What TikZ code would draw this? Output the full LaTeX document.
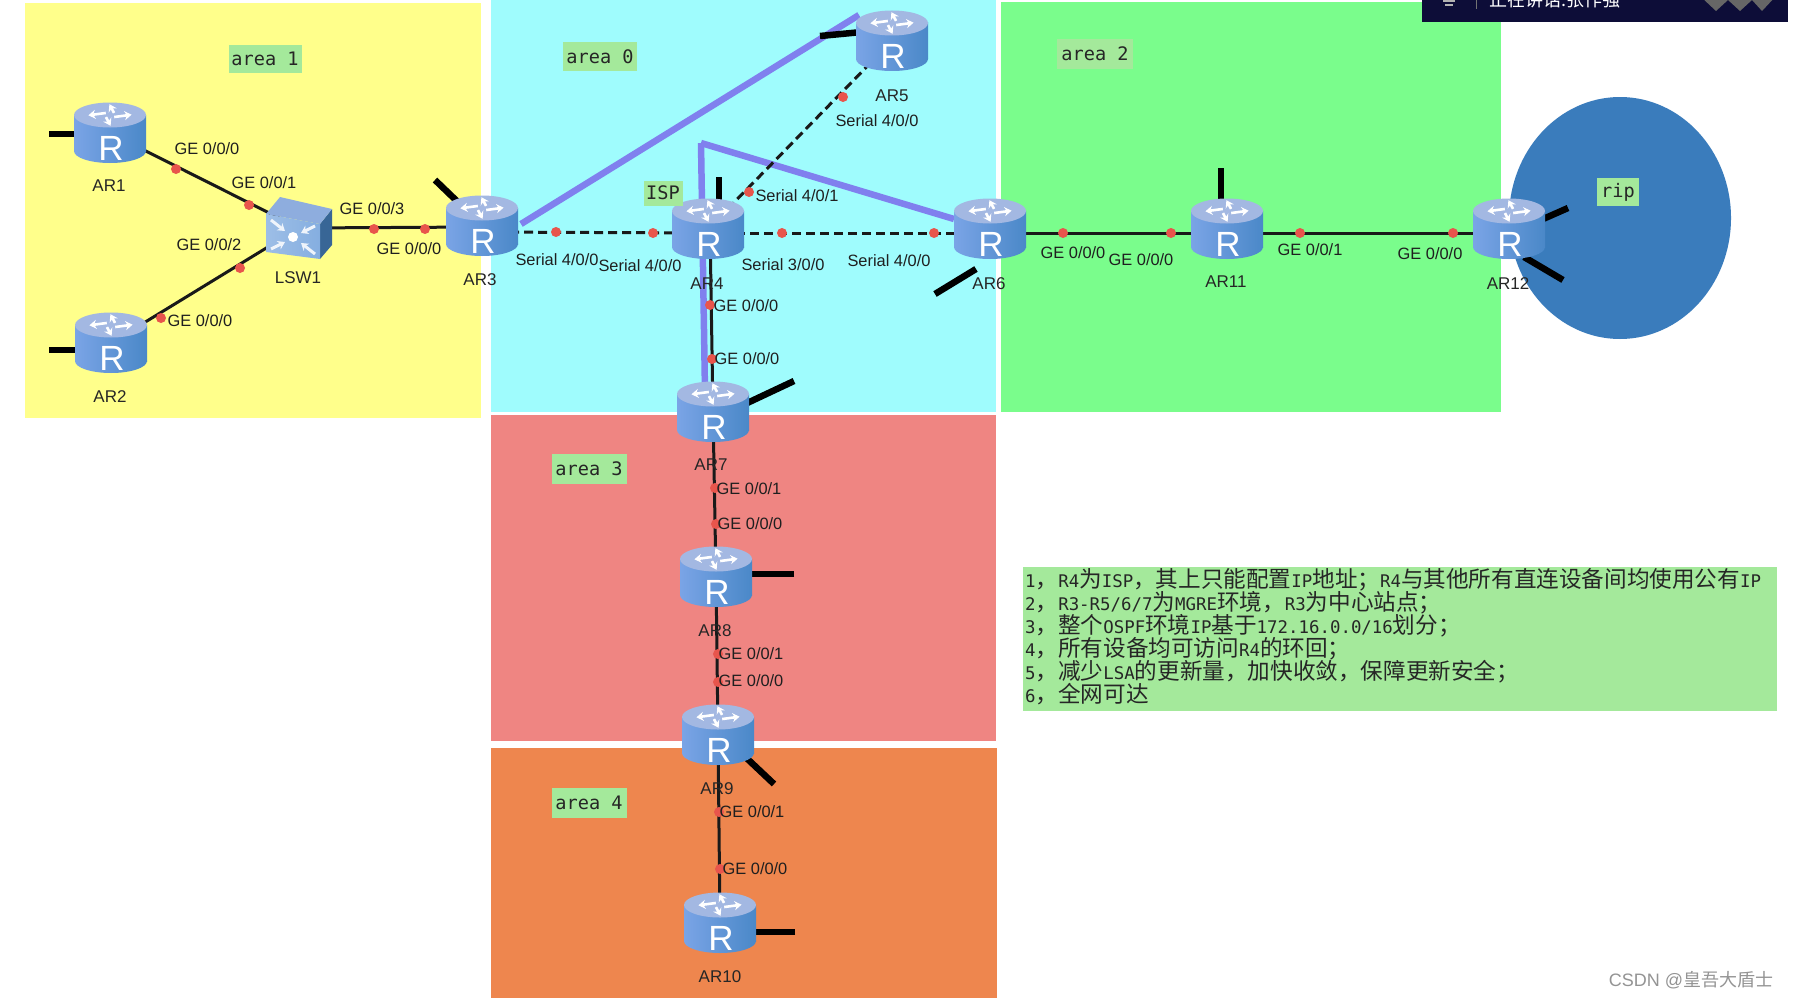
\documentclass[tikz,border=0pt]{standalone}
\usepackage{fontspec}
\usetikzlibrary{arrows.meta,calc}
\setmainfont{Liberation Sans}
\setmonofont{DejaVu Sans Mono}
\newfontfamily\cjk{Noto Sans CJK SC}
\newcommand\zh[1]{{\cjk\fontsize{22.6}{24}\selectfont #1}}
\definecolor{cyel}{HTML}{FFFF8B}
\definecolor{ccya}{HTML}{9FFCFD}
\definecolor{cgre}{HTML}{7AFD8C}
\definecolor{cred}{HTML}{EF8582}
\definecolor{cora}{HTML}{EE864E}
\definecolor{cell}{HTML}{3A7CBC}
\definecolor{cbox}{HTML}{A4E99B}
\definecolor{cpur}{HTML}{8080EE}
\definecolor{cdot}{HTML}{E8554C}
\definecolor{ctop}{HTML}{A3B8E2}
\definecolor{cbl}{HTML}{7AA4E6}
\definecolor{cbm}{HTML}{5C93D6}
\definecolor{cbr}{HTML}{4A88C8}
\tikzset{
  zone/.style={fill=#1,draw=none},
  linkline/.style={draw=black!90,line width=3pt},
  serial/.style={linkline,dash pattern=on 9pt off 5pt},
  tunnel/.style={draw=cpur,line width=6.5pt},
  stubline/.style={draw=black,line width=6.5pt},
  port/.style={circle,fill=cdot,draw=none,inner sep=0pt,minimum size=10pt},
  lab/.style={text=black!88,inner sep=0pt,font=\fontsize{16.4}{18}\selectfont},
  dev/.style={text=black!85,inner sep=0pt,font=\fontsize{17}{19}\selectfont},
  tag/.style={fill=cbox,inner sep=0pt,text=black!85,font=\ttfamily\fontsize{18.6}{20}\selectfont},
  note/.style={anchor=base west,inner sep=0pt,text=black!85,font=\ttfamily\fontsize{17.4}{20}\selectfont},
  routerbox/.style={minimum width=72pt,minimum height=62pt,inner sep=0pt,draw=none},
  routericon/.pic={
    \shade[left color=cbl,middle color=cbm,right color=cbr] (0,18) ellipse [x radius=36pt,y radius=12pt];
    \shade[left color=cbl,middle color=cbm,right color=cbr] (-36,-18) rectangle (36,18);
    \fill[ctop] (0,-18) ellipse [x radius=36pt,y radius=12.5pt];
    \begin{scope}[shift={(0,-18)},yscale=0.5]
      \foreach \a in {15,105,195,285}
        \draw[white,line width=2.6pt,-{Stealth[length=7pt,width=9pt]},rotate=\a] (3,5) -- (21,5);
    \end{scope}
    \node[text=white,inner sep=0pt,font=\fontsize{35}{35}\selectfont] at (1,15) {R};
  },
  switchicon/.pic={
    \fill[cbr!75!black] (21,-4) -- (33,-19) -- (33,17) -- (21,31) -- cycle;
    \fill[ctop!70!cbm] (-33,-14) -- (-19,-31) -- (33,-19) -- (21,-4) -- cycle;
    \shade[left color=cbm!60!white,right color=cbm!75!white] (-33,-14) -- (21,-4) -- (21,31) -- (-33,24) -- cycle;
    \fill[white] (-6,9) circle (5pt);
    \foreach \sx/\sy/\ex/\ey in {-28/-8/-14/3, 16/-2/2/5, -28/21/-14/14, 16/26/2/15}
      \draw[white!90!cbm,line width=3pt,-{Stealth[length=7pt,width=9pt]}] (\sx,\sy) -- (\ex,\ey);
  }
}
\newcommand\rtr[3]{\node[routerbox] (#1) at (#2,#3) {};}
\newcommand\stub[5]{\draw[stubline] ([shift={(#2,#3)}]#1.center) -- ([shift={(#4,#5)}]#1.center);}
\begin{document}
\begin{tikzpicture}[x=1pt,y=-1pt]
\useasboundingbox (0,0) rectangle (1793,998);
\fill[white] (0,0) rectangle (1793,998);
% zones
\path[zone=cyel] (25,3) rectangle (481,418);
\path[zone=ccya] (491,0) rectangle (996,412);
\path[zone=cgre] (1001,2) rectangle (1501,412);
\path[zone=cred] (491,415) rectangle (996,741);
\path[zone=cora] (491,748) rectangle (997,998);
\fill[cell] (1620,218) ellipse [x radius=111pt,y radius=121pt];
% top bar, cut by the picture edge
\fill[black!82!blue!95!white] (1422,0) rectangle (1788,22);
\begin{scope}
  \clip (1422,0) rectangle (1788,22);
  \fill[black!60!white] (1700,-4) -- (1716,11) -- (1728,0) -- (1740,11) -- (1752,0) -- (1762,11) -- (1776,-4) -- cycle;
  \draw[white!70!black,line width=1.5pt] (1443,1) -- (1455,1) (1445,5) -- (1453,5);
  \draw[black!55!white,line width=1pt] (1476,0) -- (1476,9);
  \node[anchor=base west,inner sep=0pt,text=white] (bartext) at (1489,7) {\cjk\fontsize{18}{20}\selectfont 正在讲话:张作强};
\end{scope}
% nodes
\rtr{ar1}{110}{133}
\rtr{ar2}{111}{343}
\rtr{ar3}{482}{226}
\rtr{ar4}{708}{229}
\rtr{ar5}{892}{41}
\rtr{ar6}{990}{229}
\rtr{ar7}{713}{412}
\rtr{ar8}{716}{577}
\rtr{ar9}{718}{735}
\rtr{ar10}{720}{923}
\rtr{ar11}{1227}{229}
\rtr{ar12}{1509}{229}
\node[minimum width=66pt,minimum height=62pt,inner sep=0pt] (lsw1) at (299,228) {};
\coordinate (hub) at (701,143);
% tunnels
\draw[tunnel] ([shift={(39,-2)}]ar3.center) -- ([shift={(-33,-26)}]ar5.center);
\draw[tunnel] (hub) -- ([shift={(-8,-20)}]ar7.center);
\draw[tunnel] (hub) -- ([shift={(-36,-10)}]ar6.center);
% links
\draw[linkline] (ar1.center) -- (lsw1.center);
\draw[linkline] (ar2.center) -- (lsw1.center);
\draw[linkline] (lsw1.center) -- ([yshift=-1pt]ar3.center);
\draw[serial] ([yshift=-6pt]ar3.center) -- ([yshift=-4pt]ar4.center);
\draw[serial] ([yshift=-4pt]ar4.center) -- ([yshift=-4pt]ar6.center);
\draw[serial] (ar4.center) -- (ar5.center);
\draw[linkline] ([xshift=2pt]ar4.center) -- (ar7.center);
\draw[linkline] (ar7.center) -- (ar8.center);
\draw[linkline] (ar8.center) -- (ar9.center);
\draw[linkline] (ar9.center) -- (ar10.center);
\draw[linkline] ([yshift=-4pt]ar6.center) -- ([yshift=-4pt]ar11.center);
\draw[linkline] ([yshift=-4pt]ar11.center) -- ([yshift=-4pt]ar12.center);
% stubs
\stub{ar1}{-61}{1}{-30}{1}
\stub{ar2}{-62}{7}{-30}{7}
\stub{ar3}{-47}{-46}{-20}{-20}
\stub{ar4}{11}{-52}{11}{-25}
\stub{ar5}{-72}{-5}{-30}{-9}
\stub{ar6}{-55}{65}{-14}{40}
\stub{ar7}{81}{-31}{30}{-7}
\stub{ar8}{78}{-3}{30}{-3}
\stub{ar9}{56}{49}{20}{15}
\stub{ar10}{75}{9}{30}{9}
\stub{ar11}{-6}{-61}{-6}{-25}
\stub{ar12}{59}{-21}{25}{-6}
\stub{ar12}{54}{51}{15}{28}
% icons
\foreach \n in {ar1,ar2,ar3,ar4,ar5,ar6,ar7,ar8,ar9,ar10,ar11,ar12}
  \pic at (\n.center) {routericon};
\pic at (lsw1.center) {switchicon};
% ports
\foreach \i/\x/\y in {1/176/169,2/249/205,3/240/268,4/161/318,5/374/229,6/425/229,7/556/232,8/653/233,9/782/233,10/934/233,11/749/192,12/843/97,13/710/305,14/712/359,15/715/488,16/716/524,17/718/654,18/718/682,19/719/812,20/720/869,21/1063/233,22/1171/233,23/1300/233,24/1453/233}
  \node[port] (p\i) at (\x,\y) {};
% device names
\node[dev] (nar1) at (109,186) {AR1};
\node[dev] (nar2) at (110,397) {AR2};
\node[dev] (nsw) at (298,278) {LSW1};
\node[dev] (nar3) at (480,280) {AR3};
\node[dev] (nar4) at (707,284) {AR4};
\node[dev] (nar5) at (892,96) {AR5};
\node[dev] (nar6) at (989,284) {AR6};
\node[dev] (nar7) at (711,465) {AR7};
\node[dev] (nar8) at (715,631) {AR8};
\node[dev] (nar9) at (717,789) {AR9};
\node[dev] (nar10) at (720,977) {AR10};
\node[dev] (nar11) at (1226,282) {AR11};
\node[dev] (nar12) at (1508,284) {AR12};
% port labels
\node[lab] (l1) at (207,149) {GE 0/0/0};
\node[lab] (l2) at (264,183) {GE 0/0/1};
\node[lab] (l3) at (209,245) {GE 0/0/2};
\node[lab] (l4) at (200,321) {GE 0/0/0};
\node[lab] (l5) at (372,209) {GE 0/0/3};
\node[lab] (l6) at (409,249) {GE 0/0/0};
\node[lab] (l7) at (557,260) {Serial 4/0/0};
\node[lab] (l8) at (640,266) {Serial 4/0/0};
\node[lab] (l9) at (783,265) {Serial 3/0/0};
\node[lab] (l10) at (889,261) {Serial 4/0/0};
\node[lab] (l11) at (797,196) {Serial 4/0/1};
\node[lab] (l12) at (877,121) {Serial 4/0/0};
\node[lab] (l13) at (746,306) {GE 0/0/0};
\node[lab] (l14) at (747,359) {GE 0/0/0};
\node[lab] (l15) at (749,489) {GE 0/0/1};
\node[lab] (l16) at (750,524) {GE 0/0/0};
\node[lab] (l17) at (751,654) {GE 0/0/1};
\node[lab] (l18) at (751,681) {GE 0/0/0};
\node[lab] (l19) at (752,812) {GE 0/0/1};
\node[lab] (l20) at (755,869) {GE 0/0/0};
\node[lab] (l21) at (1073,253) {GE 0/0/0};
\node[lab] (l22) at (1141,260) {GE 0/0/0};
\node[lab] (l23) at (1310,250) {GE 0/0/1};
\node[lab] (l24) at (1430,254) {GE 0/0/0};
% area tags
\node[tag,minimum width=73pt,minimum height=28pt] (t1) at (265,59) {area 1};
\node[tag,minimum width=74pt,minimum height=29pt] (t0) at (600,57) {area 0};
\node[tag,minimum width=76pt,minimum height=30pt] (t2) at (1095,54) {area 2};
\node[tag,minimum width=39pt,minimum height=25pt] (tisp) at (663,193) {ISP};
\node[tag,minimum width=75pt,minimum height=30pt] (t3) at (589,469) {area 3};
\node[tag,minimum width=75pt,minimum height=30pt] (t4) at (589,803) {area 4};
\node[tag,minimum width=42pt,minimum height=28pt] (trip) at (1618,192) {rip};
% notes
\fill[cbox] (1023,567) rectangle (1777,711);
\node[note] (n1) at (1025,587) {1\zh{，}R4\zh{为}ISP\zh{，其上只能配置}IP\zh{地址；}R4\zh{与其他所有直连设备间均使用公有}IP};
\node[note] (n2) at (1025,610) {2\zh{，}R3-R5/6/7\zh{为}MGRE\zh{环境，}R3\zh{为中心站点；}};
\node[note] (n3) at (1025,633) {3\zh{，整个}OSPF\zh{环境}IP\zh{基于}172.16.0.0/16\zh{划分；}};
\node[note] (n4) at (1025,656) {4\zh{，所有设备均可访问}R4\zh{的环回；}};
\node[note] (n5) at (1025,679) {5\zh{，减少}LSA\zh{的更新量，加快收敛，保障更新安全；}};
\node[note] (n6) at (1025,702) {6\zh{，全网可达}};
% watermark
\node[text=black!42,inner sep=0pt,font=\fontsize{18}{20}\selectfont] (wm) at (1691,980) {CSDN @{\cjk 皇吾大盾士}};
\end{tikzpicture}
\end{document}
